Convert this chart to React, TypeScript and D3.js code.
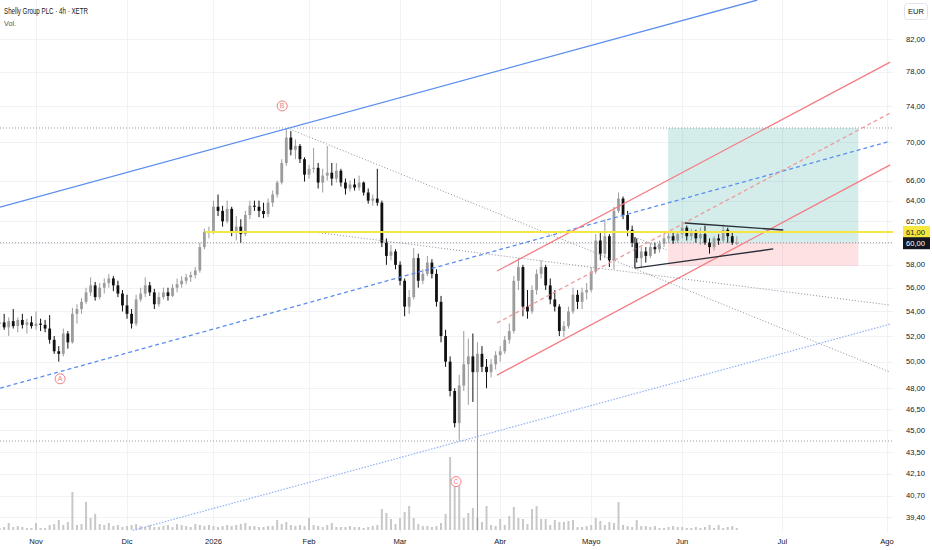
import React from 'react';
import * as d3 from 'd3';

// daily OHLC, first entry = trading day -8 (day 0 = 3 Nov 2025)
const startDay = -8;
const opens = [
  53.0, 53.1, 52.7, 53.2, 52.8, 53.3, 52.9, 53.1,
  52.8, 53.0, 52.9, 52.6, 51.7, 50.8, 50.6, 52.2, 51.5, 53.8,
  54.2, 54.8, 55.6, 56.2, 55.2, 56.0, 56.4, 56.8, 56.2, 55.5,
  54.5, 53.8, 53.0, 55.0, 55.5, 56.2, 55.6, 54.6, 55.2, 55.6,
  55.3, 56.0, 56.3, 56.6, 56.9, 57.1, 57.5, 59.6, 61.0, 61.0,
  63.4, 63.0, 62.0, 63.2, 61.0, 61.5, 60.8, 62.6, 63.5, 63.4,
  63.0, 62.7, 63.8, 64.6, 65.8, 67.8, 70.5, 69.2, 69.6, 68.2,
  66.6, 67.2, 67.3, 65.8, 66.5, 66.8, 66.2, 67.0, 65.8, 65.2,
  65.6, 65.3, 65.8, 64.8, 64.0, 64.2, 63.8, 60.0, 58.8, 59.2,
  58.0, 56.6, 54.4, 55.2, 58.6, 56.6, 57.2, 58.2, 57.2, 54.8,
  52.0, 50.0, 47.8, 45.5, 48.2, 49.8, 50.4, 49.2, 50.6, 49.6,
  49.2, 49.8, 50.5, 50.8, 51.7, 52.4, 56.6, 57.8, 54.4, 54.0,
  55.8, 57.2, 57.8, 56.2, 55.0, 54.4, 52.4, 52.8, 54.0, 55.4,
  54.8, 55.6, 55.8, 57.4, 60.2, 59.0, 60.6, 58.4, 63.0, 64.2,
  62.6, 61.2, 60.0, 58.6, 59.2, 58.8, 59.6, 59.4, 59.9, 60.4,
  60.6, 60.2, 60.8, 61.4, 60.6, 61.0, 60.4, 60.8, 60.0, 59.6,
  60.4, 60.2, 61.2, 60.6, 60.0,
];
const highs = [
  54.0, 53.8, 53.5, 54.2, 53.5, 53.8, 53.4, 53.6,
  54.0, 53.4, 53.3, 53.7, 52.0, 51.2, 52.6, 52.4, 54.3, 54.6,
  55.1, 56.0, 56.9, 56.5, 56.4, 56.8, 57.2, 57.0, 56.6, 55.8,
  55.4, 54.2, 55.4, 56.0, 56.9, 56.5, 55.9, 55.6, 56.0, 56.0,
  56.3, 56.8, 57.0, 57.2, 57.4, 57.8, 60.0, 61.3, 61.5, 64.0,
  64.6, 63.5, 64.0, 63.4, 62.5, 62.2, 63.0, 64.0, 64.0, 64.0,
  63.8, 64.2, 65.0, 66.0, 68.2, 71.5, 71.2, 70.3, 69.8, 68.4,
  67.6, 69.4, 67.8, 67.2, 69.6, 67.8, 67.8, 67.2, 66.2, 66.0,
  66.2, 66.5, 65.9, 65.2, 64.6, 67.2, 64.0, 60.4, 59.8, 59.4,
  58.3, 56.8, 55.8, 59.5, 59.0, 57.6, 58.8, 58.5, 57.6, 55.3,
  52.5, 50.4, 48.0, 49.0, 52.4, 51.8, 52.2, 51.5, 51.2, 50.2,
  50.2, 50.8, 51.2, 52.0, 53.0, 57.0, 58.6, 58.0, 55.8, 56.2,
  57.6, 58.4, 58.0, 56.8, 55.8, 54.6, 53.2, 54.4, 56.0, 55.8,
  56.0, 56.4, 57.8, 60.8, 61.0, 62.2, 60.8, 63.4, 64.8, 64.4,
  63.0, 61.6, 60.4, 59.6, 59.6, 60.0, 60.0, 60.2, 60.8, 61.0,
  60.9, 61.0, 62.0, 61.6, 61.3, 61.2, 61.4, 61.6, 60.4, 60.6,
  60.8, 61.7, 61.4, 61.0, 60.6,
];
const lows = [
  52.4, 52.5, 52.0, 52.6, 52.3, 52.6, 52.2, 52.6,
  52.5, 52.4, 52.3, 51.4, 50.6, 50.0, 50.4, 51.0, 51.4, 53.0,
  53.8, 54.6, 55.3, 54.9, 55.0, 55.5, 56.0, 55.7, 55.2, 54.0,
  53.4, 52.6, 52.8, 54.8, 55.2, 55.3, 54.2, 54.4, 55.0, 54.9,
  55.2, 55.6, 56.0, 56.3, 56.5, 56.8, 57.3, 59.4, 60.4, 60.8,
  62.5, 61.5, 61.8, 60.6, 60.2, 60.0, 60.6, 62.2, 63.0, 62.4,
  62.3, 62.4, 63.4, 64.3, 65.6, 67.5, 68.6, 68.2, 67.8, 65.9,
  66.2, 66.8, 65.2, 64.8, 66.0, 65.5, 65.8, 65.4, 64.6, 64.9,
  65.0, 65.0, 64.5, 63.7, 63.5, 63.5, 59.6, 58.0, 58.4, 57.6,
  56.2, 53.6, 53.8, 55.0, 56.0, 56.3, 57.0, 56.8, 54.4, 51.5,
  49.6, 47.4, 45.2, 44.3, 47.8, 46.8, 47.0, 38.6, 49.2, 48.0,
  48.8, 49.4, 50.0, 50.6, 51.4, 52.2, 55.8, 53.6, 53.4, 53.8,
  55.4, 56.8, 55.8, 54.6, 54.0, 52.0, 51.9, 52.6, 53.8, 54.2,
  54.2, 55.0, 55.6, 57.2, 58.4, 58.6, 57.8, 57.6, 62.8, 62.2,
  60.6, 59.6, 58.2, 57.8, 58.2, 58.6, 59.0, 59.1, 59.6, 60.0,
  59.9, 60.0, 60.4, 60.2, 60.2, 60.0, 59.8, 59.8, 59.0, 59.3,
  59.8, 60.0, 60.0, 59.8, 59.8,
];
const closes = [
  53.1, 52.7, 53.2, 52.8, 53.3, 52.9, 53.1, 52.8,
  53.0, 52.9, 52.6, 51.7, 50.8, 50.6, 52.2, 51.5, 53.8, 54.2,
  54.8, 55.6, 56.2, 55.2, 56.0, 56.4, 56.8, 56.2, 55.5, 54.5,
  53.8, 53.0, 55.0, 55.5, 56.2, 55.6, 54.6, 55.2, 55.6, 55.3,
  56.0, 56.3, 56.6, 56.9, 57.1, 57.5, 59.6, 61.0, 61.0, 63.4,
  63.0, 62.0, 63.2, 61.0, 61.5, 60.8, 62.6, 63.5, 63.4, 63.0,
  62.7, 63.8, 64.6, 65.8, 67.8, 70.5, 69.2, 69.6, 68.2, 66.6,
  67.2, 67.3, 65.8, 66.5, 66.8, 66.2, 67.0, 65.8, 65.2, 65.6,
  65.3, 65.8, 64.8, 64.0, 64.2, 63.8, 60.0, 58.8, 59.2, 58.0,
  56.6, 54.4, 55.2, 58.6, 56.6, 57.2, 58.2, 57.2, 54.8, 52.0,
  50.0, 47.8, 45.5, 48.2, 49.8, 50.4, 49.2, 50.6, 49.6, 49.2,
  49.8, 50.5, 50.8, 51.7, 52.4, 56.6, 57.8, 54.4, 54.0, 55.8,
  57.2, 57.8, 56.2, 55.0, 54.4, 52.4, 52.8, 54.0, 55.4, 54.8,
  55.6, 55.8, 57.4, 60.2, 59.0, 60.6, 58.4, 63.0, 64.2, 62.6,
  61.2, 60.0, 58.6, 59.2, 58.8, 59.6, 59.4, 59.9, 60.4, 60.6,
  60.2, 60.8, 61.4, 60.6, 61.0, 60.4, 60.8, 60.0, 59.6, 60.4,
  60.2, 61.2, 60.6, 60.0, 60.0,
];
const volumes = [
  2, 3, 7, 3, 4, 3, 2, 2,
  7, 2, 2, 5, 6, 10, 5, 8, 38, 5,
  6, 28, 12, 16, 6, 5, 7, 4, 5, 3,
  4, 5, 6, 4, 3, 5, 3, 3, 4, 5,
  3, 6, 5, 4, 3, 6, 5, 4, 5, 4,
  3, 4, 5, 4, 5, 6, 7, 4, 4, 3,
  3, 4, 4, 10, 6, 8, 5, 4, 5, 4,
  12, 5, 4, 3, 5, 7, 3, 3, 3, 4,
  3, 3, 2, 3, 4, 5, 21, 17, 11, 6,
  12, 18, 24, 12, 6, 4, 4, 3, 4, 7,
  16, 73, 45, 45, 12, 17, 22, 12, 8, 24,
  5, 4, 11, 5, 14, 23, 12, 11, 6, 21,
  24, 11, 11, 5, 10, 8, 8, 9, 10, 3,
  3, 4, 5, 12, 9, 5, 8, 7, 28, 5,
  4, 3, 10, 4, 4, 3, 4, 2, 2, 3,
  4, 3, 3, 2, 2, 3, 2, 3, 5, 2,
  5, 2, 3, 4, 2,
];

const monthLabels = ['Nov', 'Dic', '2026', 'Feb', 'Mar', 'Abr', 'Mayo', 'Jun', 'Jul', 'Ago'];
const monthDays = [0, 20, 39, 60, 80, 102, 122, 142, 164, 187];
const priceTicks = [82, 78, 74, 70, 66, 64, 62, 60, 58, 56, 54, 52, 50, 48, 46.5, 45, 43.5, 42.1, 40.7, 39.4];

const lastPrice = 60.0;
const yellowLevel = 61.0;
const yellowFromDay = 37.1;
const dottedLevels = [71.54, 44.27, lastPrice];

// drawings: [day, price] anchors
const trendLines = [
  { name: 'blueSolid', from: [-7.9, 63.37], to: [158.5, 87.05] },
  { name: 'blueDashed', from: [-7.9, 48.0], to: [187.7, 70.1] },
  { name: 'blueDotted', from: [21.3, 38.6], to: [187.7, 52.96] },
  { name: 'redUpper', from: [101.3, 57.45], to: [187.7, 79.15] },
  { name: 'redMid', from: [101.3, 53.05], to: [187.7, 73.2] },
  { name: 'redLower', from: [101.3, 48.98], to: [187.7, 67.6] },
  { name: 'grayPeak', from: [55.16, 71.54], to: [187.7, 49.2] },
  { name: 'grayLow', from: [60.9, 61.0], to: [187.7, 54.53] },
  { name: 'grayShort', from: [131.6, 60.5], to: [138.9, 59.3] },
  { name: 'triUpper', from: [142.6, 61.84], to: [164.2, 61.18] },
  { name: 'triLower', from: [131.6, 57.71], to: [162.0, 59.43] },
  { name: 'triSide', from: [131.6, 57.71], to: [131.6, 60.5] },
];

const lineStyles: Record<string, { stroke: string; width: number; dash?: string }> = {
  blueSolid: { stroke: '#5b8ef0', width: 1.3 },
  blueDashed: { stroke: '#5b8ef0', width: 1.3, dash: '4 3' },
  blueDotted: { stroke: '#91b2f5', width: 1.2, dash: '1.5 1.5' },
  redUpper: { stroke: '#f47c82', width: 1.3 },
  redMid: { stroke: '#ee9a9a', width: 1.3, dash: '4 3' },
  redLower: { stroke: '#f47c82', width: 1.3 },
  grayPeak: { stroke: '#8d9098', width: 1, dash: '1 2' },
  grayLow: { stroke: '#8d9098', width: 1, dash: '1 2' },
  grayShort: { stroke: '#8d9098', width: 1, dash: '1 2' },
  triUpper: { stroke: '#2a2e39', width: 1.3 },
  triLower: { stroke: '#2a2e39', width: 1.3 },
  triSide: { stroke: '#2a2e39', width: 1.3 },
};

// long position tool
const posFromDay = 138.9;
const posToDay = 180.7;
const posTarget = 71.54;
const posEntry = 60.0;
const posStop = 57.9;

const waveLabels = [
  { label: 'A', day: 5.3, price: 48.7 },
  { label: 'B', day: 54.1, price: 74.0 },
  { label: 'C', day: 92.3, price: 41.6 },
];

const fmt = (p: number) => p.toFixed(2).replace('.', ',');

export default function App() {
  const width = 932;
  const height = 550;
  const plotRight = 893;
  const plotBottom = 532;
  const font = "'Liberation Sans', Arial, sans-serif";

  const x = d3.scaleLinear().domain([0, 187]).range([36, 887]);
  const y = d3.scaleLog().domain([39.4, 82]).range([517, 39]);
  const v = d3.scaleLinear().domain([0, 73]).range([530, 457]);

  const candles = closes.map((c, k) => ({
    day: startDay + k, o: opens[k], h: highs[k], l: lows[k], c, vol: volumes[k],
  }));
  const bw = 2.8;

  return (
    <>
      <style>{`body{margin:0;background:#fff}`}</style>
      <svg width={width} height={height} style={{ display: 'block', fontFamily: font }}>
        <defs>
          <clipPath id="plot">
            <rect x={0} y={0} width={plotRight} height={plotBottom} />
          </clipPath>
        </defs>
        <rect width={width} height={height} fill="#fff" />

        {/* grid */}
        <g stroke="#f0f2f6" strokeWidth={1}>
          {priceTicks.map(t => (
            <line key={t} x1={0} x2={plotRight} y1={Math.round(y(t)) + 0.5} y2={Math.round(y(t)) + 0.5} />
          ))}
          {monthDays.map(d => (
            <line key={d} x1={Math.round(x(d)) + 0.5} x2={Math.round(x(d)) + 0.5} y1={0} y2={plotBottom} />
          ))}
        </g>

        <g clipPath="url(#plot)">
          {/* long position boxes */}
          <rect x={x(posFromDay)} width={x(posToDay) - x(posFromDay)} y={y(posTarget)}
            height={y(posEntry) - y(posTarget)} fill="#26a69a" fillOpacity={0.2} />
          <rect x={x(posFromDay)} width={x(posToDay) - x(posFromDay)} y={y(posEntry)}
            height={y(posStop) - y(posEntry)} fill="#f23645" fillOpacity={0.15} />

          {/* volume */}
          {candles.map(d => (
            <rect key={'v' + d.day} x={x(d.day) - 1} width={2} y={v(d.vol)} height={v(0) - v(d.vol)} fill="#c8c8c8" />
          ))}

          {/* horizontal dotted levels */}
          {dottedLevels.map(p => (
            <line key={p} x1={0} x2={plotRight} y1={y(p)} y2={y(p)} stroke="#9598a1" strokeWidth={1} strokeDasharray="1 2" />
          ))}

          {/* candles */}
          {candles.map(d => {
            const up = d.c >= d.o;
            const col = up ? '#9c9c9c' : '#111';
            const top = y(Math.max(d.o, d.c));
            const bot = y(Math.min(d.o, d.c));
            return (
              <g key={'c' + d.day}>
                <line x1={x(d.day)} x2={x(d.day)} y1={y(d.h)} y2={y(d.l)} stroke={col} strokeWidth={1} />
                <rect x={x(d.day) - bw / 2} width={bw} y={top} height={Math.max(1, bot - top)} fill={col} />
              </g>
            );
          })}

          {/* trend lines */}
          {trendLines.map(l => {
            const s = lineStyles[l.name];
            return (
              <line key={l.name} x1={x(l.from[0])} y1={y(l.from[1])} x2={x(l.to[0])} y2={y(l.to[1])}
                stroke={s.stroke} strokeWidth={s.width} strokeDasharray={s.dash} />
            );
          })}

          {/* yellow level */}
          <line x1={x(yellowFromDay)} x2={plotRight} y1={y(yellowLevel)} y2={y(yellowLevel)} stroke="#f5e642" strokeWidth={2} />

          {/* wave labels */}
          {waveLabels.map(w => (
            <g key={w.label} transform={`translate(${x(w.day)},${y(w.price)})`}>
              <circle r={5} fill="#fff" stroke="#f47c82" strokeWidth={1} />
              <text textAnchor="middle" dy="0.35em" fontSize={7} fill="#f47c82">{w.label}</text>
            </g>
          ))}
        </g>

        {/* price axis */}
        <g fontSize={7.6} fill="#131722">
          {priceTicks.filter(t => t !== 60).map(t => (
            <text key={t} x={906} y={y(t)} dy="0.35em">{fmt(t)}</text>
          ))}
        </g>
        <rect x={903} y={y(yellowLevel) - 6} width={27} height={12} fill="#f7e840" />
        <text x={906} y={y(yellowLevel)} dy="0.35em" fontSize={7.6} fill="#131722">{fmt(yellowLevel)}</text>
        <rect x={903} y={y(lastPrice) - 5.5} width={27} height={12} fill="#131722" />
        <text x={906} y={y(lastPrice) + 0.5} dy="0.35em" fontSize={7.6} fill="#fff">{fmt(lastPrice)}</text>

        <rect x={904.5} y={3.5} width={23} height={16} rx={3} fill="#fff" stroke="#e0e3eb" />
        <text x={916} y={11.5} dy="0.35em" textAnchor="middle" fontSize={7.5} fill="#131722">EUR</text>

        {/* time axis */}
        <g fontSize={7.6} fill="#131722">
          {monthLabels.map((m, k) => (
            <text key={m} x={x(monthDays[k])} y={541} dy="0.35em" textAnchor="middle">{m}</text>
          ))}
        </g>

        {/* legend */}
        <text x={4} y={11} dy="0.35em" fontSize={8.4} fill="#131722" textLength={84} lengthAdjust="spacingAndGlyphs">
          Shelly Group PLC · 4h · XETR
        </text>
        <text x={4} y={23} dy="0.35em" fontSize={8} fill="#555" textLength={12} lengthAdjust="spacingAndGlyphs">Vol.</text>
      </svg>
    </>
  );
}
